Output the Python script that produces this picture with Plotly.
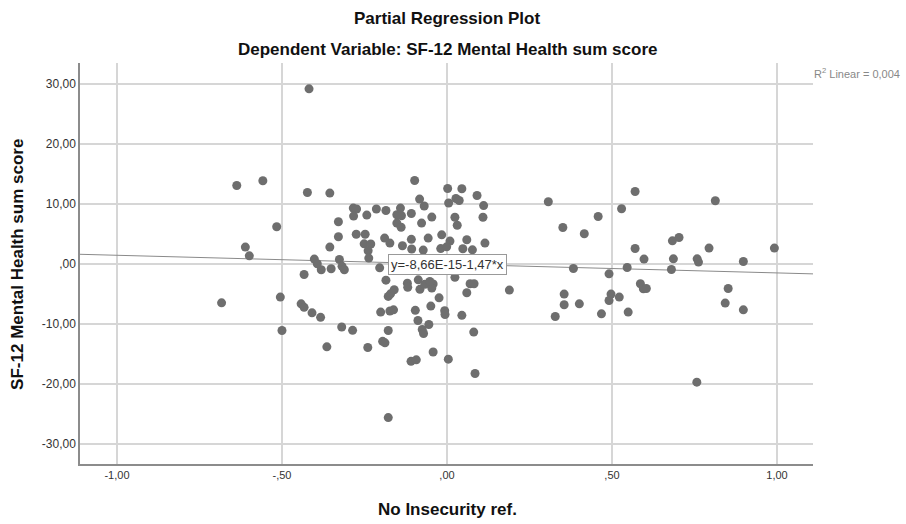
import plotly.graph_objects as go

# ---- data ----
x_vals = [
    -0.683, -0.637, -0.558, -0.611, -0.599, -0.516, -0.505, -0.500, -0.418, -0.423,
    -0.442, -0.433, -0.433, -0.409, -0.402, -0.393, -0.383, -0.381, -0.355, -0.355,
    -0.351, -0.329, -0.329, -0.326, -0.318, -0.311, -0.319, -0.286, -0.284, -0.274,
    -0.283, -0.275, -0.248, -0.243, -0.251, -0.231, -0.239, -0.237, -0.214, -0.204,
    -0.201, -0.364, -0.240, -0.195, -0.188, -0.185, -0.189, -0.173, -0.185, -0.178,
    -0.171, -0.160, -0.173, -0.162, -0.178, -0.178, -0.141, -0.152, -0.138, -0.152,
    -0.139, -0.135, -0.120, -0.119, -0.109, -0.093, -0.098, -0.083, -0.069, -0.108,
    -0.046, -0.077, 0.002, 0.045, 0.091, 0.005, 0.027, 0.037, 0.111, 0.109,
    0.024, 0.031, -0.108, -0.057, -0.016, 0.009, 0.060, 0.115, -0.107, -0.072,
    -0.019, -0.001, 0.048, 0.077, 0.024, 0.070, 0.082, 0.060, 0.189, -0.087,
    -0.082, -0.067, -0.042, -0.046, -0.052, -0.024, -0.049, -0.096, -0.007, -0.006,
    0.045, -0.088, -0.055, -0.075, -0.071, 0.081, -0.042, 0.004, 0.085,
    0.307, 0.351, 0.355, 0.355, 0.401, 0.328, 0.383, 0.416, 0.458, 0.468,
    0.491, 0.497, 0.491, 0.522, 0.529, 0.546, 0.549, 0.570, 0.570, 0.586,
    0.595, 0.604, 0.597, 0.683, 0.703, 0.686, 0.680, 0.758, 0.762, 0.757,
    0.794, 0.813, 0.843, 0.852, 0.898, 0.898, 0.992,
]
y_vals = [
    -6.45, 13.10, 13.88, 2.83, 1.38, 6.22, -5.50, -11.07, 29.2, 11.93,
    -6.62, -7.20, -1.73, -8.12, 0.83, 0.05, -8.87, -0.95, 11.83, 2.83,
    -0.78, 7.05, 4.55, 0.77, -0.37, -0.95, -10.48, -11.03, 9.33, 9.18,
    8.00, 4.97, 4.97, 8.17, 3.38, 3.35, 2.22, 1.00, 9.18, -0.62,
    -8.00, -13.78, -13.90, -12.87, -13.12, 8.92, 4.33, 3.50, -2.68, -5.38,
    -4.95, -4.28, -7.82, -7.62, -11.07, -25.57, 9.33, 8.22, 8.05, 6.83,
    6.13, 3.05, -3.17, -3.87, -16.20, -15.95, 13.93, 10.83, 9.67, 8.43,
    7.83, 6.83, 12.60, 12.55, 11.43, 10.18, 10.92, 10.60, 9.75, 7.80,
    7.80, 6.47, 4.13, 4.33, 4.88, 3.83, 4.05, 3.50, 2.52, 2.33,
    2.58, 2.88, 2.55, 2.38, -2.20, -3.28, -3.28, -4.78, -4.33, -2.62,
    -4.20, -3.37, -3.32, -4.00, -2.90, -5.62, -7.00, -7.70, -7.78, -8.40,
    -8.53, -9.40, -10.07, -10.90, -11.57, -11.33, -14.65, -15.83, -18.23,
    10.38, 6.10, -5.00, -6.78, -6.62, -8.73, -0.73, 5.05, 7.93, -8.28,
    -1.62, -5.00, -6.07, -5.50, 9.22, -0.57, -8.00, 12.10, 2.60, -3.28,
    -4.12, -4.07, 0.83, 3.88, 4.43, 0.88, -0.90, 0.88, 0.33, -19.67,
    2.67, 10.55, -6.50, -4.07, 0.43, -7.62, 2.67,
]

fit_intercept = -8.66e-15
fit_slope = -1.47
x_range = [-1.112, 1.109]
y_range = [-33.3, 33.5]

x_tick_vals = [-1.0, -0.5, 0.0, 0.5, 1.0]
x_tick_text = ["-1,00", "-,50", ",00", ",50", "1,00"]
y_tick_vals = [-30, -20, -10, 0, 10, 20, 30]
y_tick_text = ["-30,00", "-20,00", "-10,00", ",00", "10,00", "20,00", "30,00"]

title_1 = "Partial Regression Plot"
title_2 = "Dependent Variable: SF-12 Mental Health sum score"
x_title = "No Insecurity ref."
y_title = "SF-12 Mental Health sum score"
r2_text = "R<sup>2</sup> Linear = 0,004"
eq_text = "y=-8,66E-15-1,47*x"

FONT = "Liberation Sans, Arial, sans-serif"

fig = go.Figure()

line_x = x_range
line_y = [fit_intercept + fit_slope * v for v in line_x]
fig.add_trace(go.Scatter(
    x=line_x, y=line_y, mode="lines",
    line=dict(color="#8a8a8a", width=1), hoverinfo="skip", showlegend=False,
))
fig.add_trace(go.Scatter(
    x=x_vals, y=y_vals, mode="markers",
    marker=dict(color="#6e6e6e", size=9, line=dict(width=0)),
    showlegend=False,
))

fig.update_layout(
    width=906, height=524,
    margin=dict(l=80, r=93, t=63, b=60),
    paper_bgcolor="white", plot_bgcolor="white",
    font=dict(family=FONT, color="#222"),
    showlegend=False,
)
fig.update_xaxes(
    range=x_range, tickvals=x_tick_vals, ticktext=x_tick_text,
    showgrid=True, gridcolor="#d6d6d6", gridwidth=1.5,
    zeroline=False, showline=True, linecolor="#8c8c8c", linewidth=1.5,
    ticks="", tickfont=dict(size=11, color="#333"),
)
fig.update_yaxes(
    range=y_range, tickvals=y_tick_vals, ticktext=y_tick_text,
    showgrid=True, gridcolor="#d6d6d6", gridwidth=1.5,
    zeroline=False, showline=True, linecolor="#8c8c8c", linewidth=1.5,
    ticks="", tickfont=dict(size=12, color="#333"),
)

anns = [
    dict(text="<b>" + title_1 + "</b>", x=0.5007, y=1.112, xref="paper", yref="paper",
         xanchor="center", yanchor="middle", showarrow=False, font=dict(size=17, color="#111")),
    dict(text="<b>" + title_2 + "</b>", x=0.5007, y=1.033, xref="paper", yref="paper",
         xanchor="center", yanchor="middle", showarrow=False, font=dict(size=17, color="#111")),
    dict(text="<b>" + x_title + "</b>", x=0.5007, y=-0.1147, xref="paper", yref="paper",
         xanchor="center", yanchor="middle", showarrow=False, font=dict(size=17, color="#111")),
    dict(text="<b>" + y_title + "</b>", x=-0.0846, y=0.499, xref="paper", yref="paper",
         xanchor="center", yanchor="middle", textangle=-90, showarrow=False,
         font=dict(size=17, color="#111")),
    dict(text=r2_text, x=0.999, y=0.975, xref="paper", yref="paper",
         xanchor="left", yanchor="middle", showarrow=False, font=dict(size=11, color="#888")),
    dict(text=eq_text, x=0.0, y=0.0, xref="x", yref="y",
         xanchor="center", yanchor="middle", showarrow=False,
         font=dict(size=13, color="#333"), bgcolor="white",
         bordercolor="#999", borderwidth=1, borderpad=2),
]
fig.update_layout(annotations=anns)

fig.write_html("out.html")
